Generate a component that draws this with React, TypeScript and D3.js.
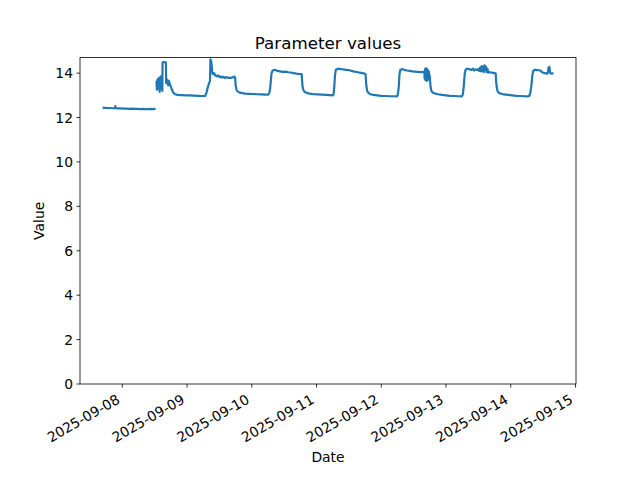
import React from "react";
import * as d3 from "d3";

type Pt = [string, number | null];

// Readings per day: [time HH:MM, value]; null marks a gap in the record
const sep07: Pt[] = [
  ["16:40", 12.45], ["17:30", 12.44], ["18:30", 12.43], ["19:30", 12.43], ["20:30", 12.42],
  ["21:20", 12.42], ["21:25", 12.52], ["21:30", 12.42], ["22:30", 12.41], ["23:30", 12.41],
];
const sep08: Pt[] = [
  ["00:30", 12.40], ["01:30", 12.40], ["02:30", 12.39], ["03:30", 12.40], ["04:30", 12.39],
  ["05:30", 12.39], ["06:30", 12.38], ["07:30", 12.39], ["08:30", 12.38], ["09:30", 12.38],
  ["10:30", 12.39], ["11:30", 12.38], ["12:20", 12.39], ["12:30", null],
  ["12:40", 13.65], ["12:50", 13.25], ["13:00", 13.70], ["13:10", 13.30], ["13:20", 13.75],
  ["13:30", 13.40], ["13:40", 13.80], ["13:50", 13.15], ["14:00", 13.75], ["14:10", 13.45],
  ["14:20", 13.85], ["14:30", 13.30], ["14:45", 13.60], ["14:50", 13.20], ["14:55", 14.48],
  ["15:30", 14.50], ["16:10", 14.48], ["16:15", 13.55], ["16:40", 13.70], ["17:00", 13.45],
  ["17:15", 13.65], ["17:40", 13.50], ["18:15", 13.30], ["18:45", 13.15], ["19:30", 13.05],
  ["20:30", 13.02], ["22:00", 13.01], ["23:30", 13.00],
];
const sep09: Pt[] = [
  ["01:00", 13.00], ["02:30", 12.99], ["04:00", 12.98], ["05:30", 12.97], ["06:40", 12.97],
  ["07:10", 13.10], ["07:40", 13.35], ["08:10", 13.55], ["08:30", 13.65], ["08:40", 14.62],
  ["08:55", 14.55], ["09:10", 14.30], ["09:20", 14.05], ["09:40", 13.95], ["10:00", 14.00],
  ["10:30", 13.90], ["11:00", 13.85], ["11:30", 13.90], ["12:00", 13.82], ["12:30", 13.85],
  ["13:00", 13.80], ["13:30", 13.84], ["14:00", 13.78], ["14:30", 13.82], ["15:00", 13.80],
  ["15:30", 13.78], ["16:00", 13.80], ["16:30", 13.79], ["17:00", 13.82], ["17:30", 13.85],
  ["17:50", 13.80], ["18:00", 13.45], ["18:20", 13.25], ["18:50", 13.17], ["19:30", 13.12],
  ["20:30", 13.10], ["21:30", 13.08], ["23:00", 13.07],
];
const sep10: Pt[] = [
  ["00:30", 13.06], ["02:00", 13.05], ["03:30", 13.04], ["05:00", 13.03], ["06:00", 13.03],
  ["06:30", 13.10], ["06:50", 13.35], ["07:05", 13.70], ["07:20", 14.00], ["07:45", 14.12],
  ["08:30", 14.15], ["09:30", 14.10], ["10:30", 14.08], ["11:30", 14.06], ["12:30", 14.07],
  ["13:30", 14.04], ["14:30", 14.03], ["15:30", 14.00], ["16:30", 13.98], ["17:20", 13.97],
  ["18:30", 13.96], ["18:45", 13.45], ["19:05", 13.25], ["19:40", 13.15], ["20:30", 13.10],
  ["21:30", 13.08], ["23:00", 13.05],
];
const sep11: Pt[] = [
  ["00:30", 13.04], ["02:00", 13.03], ["03:30", 13.02], ["05:00", 13.01], ["06:00", 13.00],
  ["06:20", 13.05], ["06:35", 13.40], ["06:50", 13.90], ["07:10", 14.15], ["08:00", 14.20],
  ["09:00", 14.18], ["10:00", 14.17], ["11:00", 14.15], ["12:00", 14.14], ["13:00", 14.10],
  ["14:00", 14.07], ["15:00", 14.05], ["16:00", 14.02], ["17:00", 14.00], ["17:45", 13.98],
  ["18:10", 13.95], ["18:25", 13.50], ["18:45", 13.20], ["19:20", 13.10], ["20:00", 13.05],
  ["21:00", 13.02], ["22:30", 13.00],
];
const sep12: Pt[] = [
  ["00:00", 12.98], ["01:30", 12.97], ["03:00", 12.96], ["04:30", 12.96], ["05:50", 12.95],
  ["06:10", 13.05], ["06:30", 13.40], ["06:45", 13.95], ["07:05", 14.15], ["07:40", 14.18],
  ["08:30", 14.15], ["09:30", 14.12], ["10:30", 14.10], ["11:30", 14.08], ["12:30", 14.07],
  ["13:30", 14.06], ["14:30", 14.05], ["15:30", 14.05], ["16:00", 14.08], ["16:05", 13.75],
  ["16:10", 14.15], ["16:15", 13.70], ["16:20", 14.20], ["16:25", 13.72], ["16:30", 14.18],
  ["16:35", 13.68], ["16:40", 14.22], ["16:45", 13.70], ["16:50", 14.20], ["16:55", 13.65],
  ["17:00", 14.18], ["17:05", 13.68], ["17:10", 14.15], ["17:15", 13.70], ["17:20", 14.12],
  ["17:25", 13.72], ["17:30", 14.10], ["17:35", 13.75], ["17:40", 14.05], ["17:45", 13.80],
  ["17:50", 13.95], ["18:00", 13.85], ["18:15", 13.40], ["18:35", 13.20], ["19:10", 13.12],
  ["20:00", 13.08], ["21:00", 13.05], ["22:30", 13.02],
];
const sep13: Pt[] = [
  ["00:00", 13.00], ["01:30", 12.98], ["03:00", 12.97], ["04:30", 12.96], ["05:50", 12.95],
  ["06:15", 13.05], ["06:35", 13.40], ["06:55", 13.95], ["07:15", 14.15], ["07:45", 14.20],
  ["08:30", 14.18], ["09:30", 14.15], ["10:00", 14.20], ["10:30", 14.12], ["11:00", 14.17],
  ["11:30", 14.14], ["12:00", 14.18], ["12:20", 14.10], ["12:40", 14.25], ["13:00", 14.08],
  ["13:15", 14.32], ["13:30", 14.10], ["13:45", 14.28], ["14:00", 14.05], ["14:15", 14.35],
  ["14:30", 14.15], ["14:45", 14.30], ["15:00", 14.05], ["15:20", 14.20], ["15:40", 14.02],
  ["16:00", 14.05], ["17:00", 14.02], ["18:00", 14.00], ["18:25", 13.98], ["18:40", 13.50],
  ["19:00", 13.22], ["19:30", 13.12], ["20:30", 13.07], ["21:30", 13.04], ["23:00", 13.02],
];
const sep14: Pt[] = [
  ["00:30", 13.00], ["02:00", 12.98], ["03:30", 12.97], ["05:00", 12.96], ["06:00", 12.95],
  ["06:50", 12.97], ["07:15", 13.10], ["07:40", 13.45], ["08:00", 13.90], ["08:25", 14.12],
  ["09:00", 14.15], ["10:00", 14.14], ["11:00", 14.12], ["11:30", 14.05], ["12:30", 14.00],
  ["13:30", 13.98], ["13:50", 14.05], ["14:00", 14.25], ["14:10", 14.15], ["14:20", 14.28],
  ["14:35", 14.00], ["15:10", 13.98], ["15:50", 14.00],
];

const days: [string, Pt[]][] = [
  ["2025-09-07", sep07], ["2025-09-08", sep08], ["2025-09-09", sep09], ["2025-09-10", sep10],
  ["2025-09-11", sep11], ["2025-09-12", sep12], ["2025-09-13", sep13], ["2025-09-14", sep14],
];

const yTicks = [0, 2, 4, 6, 8, 10, 12, 14];
const title = "Parameter values";
const xLabel = "Date";
const yLabel = "Value";

type Row = { t: Date; v: number | null };
const rows: Row[] = days.flatMap(([day, pts]) =>
  pts.map(([hm, v]) => ({ t: new Date(`${day}T${hm}:00`), v }))
);

const W = 640, H = 480;
const L = 80, R = 576, T = 57.6, B = 384;
const FONT = "DejaVu Sans, sans-serif";
const COLOR = "#1f77b4";

export default function App() {
  const [t0, t1] = d3.extent(rows, (d) => d.t) as [Date, Date];
  const pad = (t1.getTime() - t0.getTime()) * 0.05;
  const x = d3.scaleTime().domain([new Date(t0.getTime() - pad), new Date(t1.getTime() + pad)]).range([L, R]);
  const y = d3.scaleLinear().domain([0, 14.7]).range([B, T]);
  const line = d3
    .line<Row>()
    .defined((d) => d.v !== null)
    .x((d) => x(d.t))
    .y((d) => y(d.v as number));
  const xTicks = x.ticks(d3.timeDay.every(1) as d3.TimeInterval);
  const fmt = d3.timeFormat("%Y-%m-%d");
  const fs = 13.9;

  return (
    <svg width={W} height={H} style={{ position: "absolute", left: 0, top: 0, background: "#fff" }} fontFamily={FONT}>
      <rect x={0} y={0} width={W} height={H} fill="#fff" />
      <defs>
        <clipPath id="plot">
          <rect x={L} y={T} width={R - L} height={B - T} />
        </clipPath>
      </defs>
      <path d={line(rows) || ""} fill="none" stroke={COLOR} strokeWidth={2.2} strokeLinejoin="round" clipPath="url(#plot)" />
      <rect x={L} y={T} width={R - L} height={B - T} fill="none" stroke="#000" strokeWidth={0.8} />
      {yTicks.map((v) => (
        <g key={v}>
          <line x1={L - 3.5} x2={L} y1={y(v)} y2={y(v)} stroke="#000" strokeWidth={0.8} />
          <text x={L - 7} y={y(v)} textAnchor="end" dominantBaseline="central" fontSize={fs} fill="#000">
            {v}
          </text>
        </g>
      ))}
      {xTicks.map((d) => {
        const xx = x(d);
        return (
          <g key={d.getTime()}>
            <line x1={xx} x2={xx} y1={B} y2={B + 3.5} stroke="#000" strokeWidth={0.8} />
            <text
              transform={`translate(${xx - 4},${B + 14}) rotate(-30)`}
              textAnchor="end"
              dominantBaseline="central"
              fontSize={fs}
              fill="#000"
            >
              {fmt(d)}
            </text>
          </g>
        );
      })}
      <text x={(L + R) / 2} y={43} textAnchor="middle" dominantBaseline="central" fontSize={16.7} fill="#000">
        {title}
      </text>
      <text x={(L + R) / 2} y={457} textAnchor="middle" dominantBaseline="central" fontSize={fs} fill="#000">
        {xLabel}
      </text>
      <text transform={`translate(39,${(T + B) / 2}) rotate(-90)`} textAnchor="middle" dominantBaseline="central" fontSize={fs} fill="#000">
        {yLabel}
      </text>
    </svg>
  );
}
